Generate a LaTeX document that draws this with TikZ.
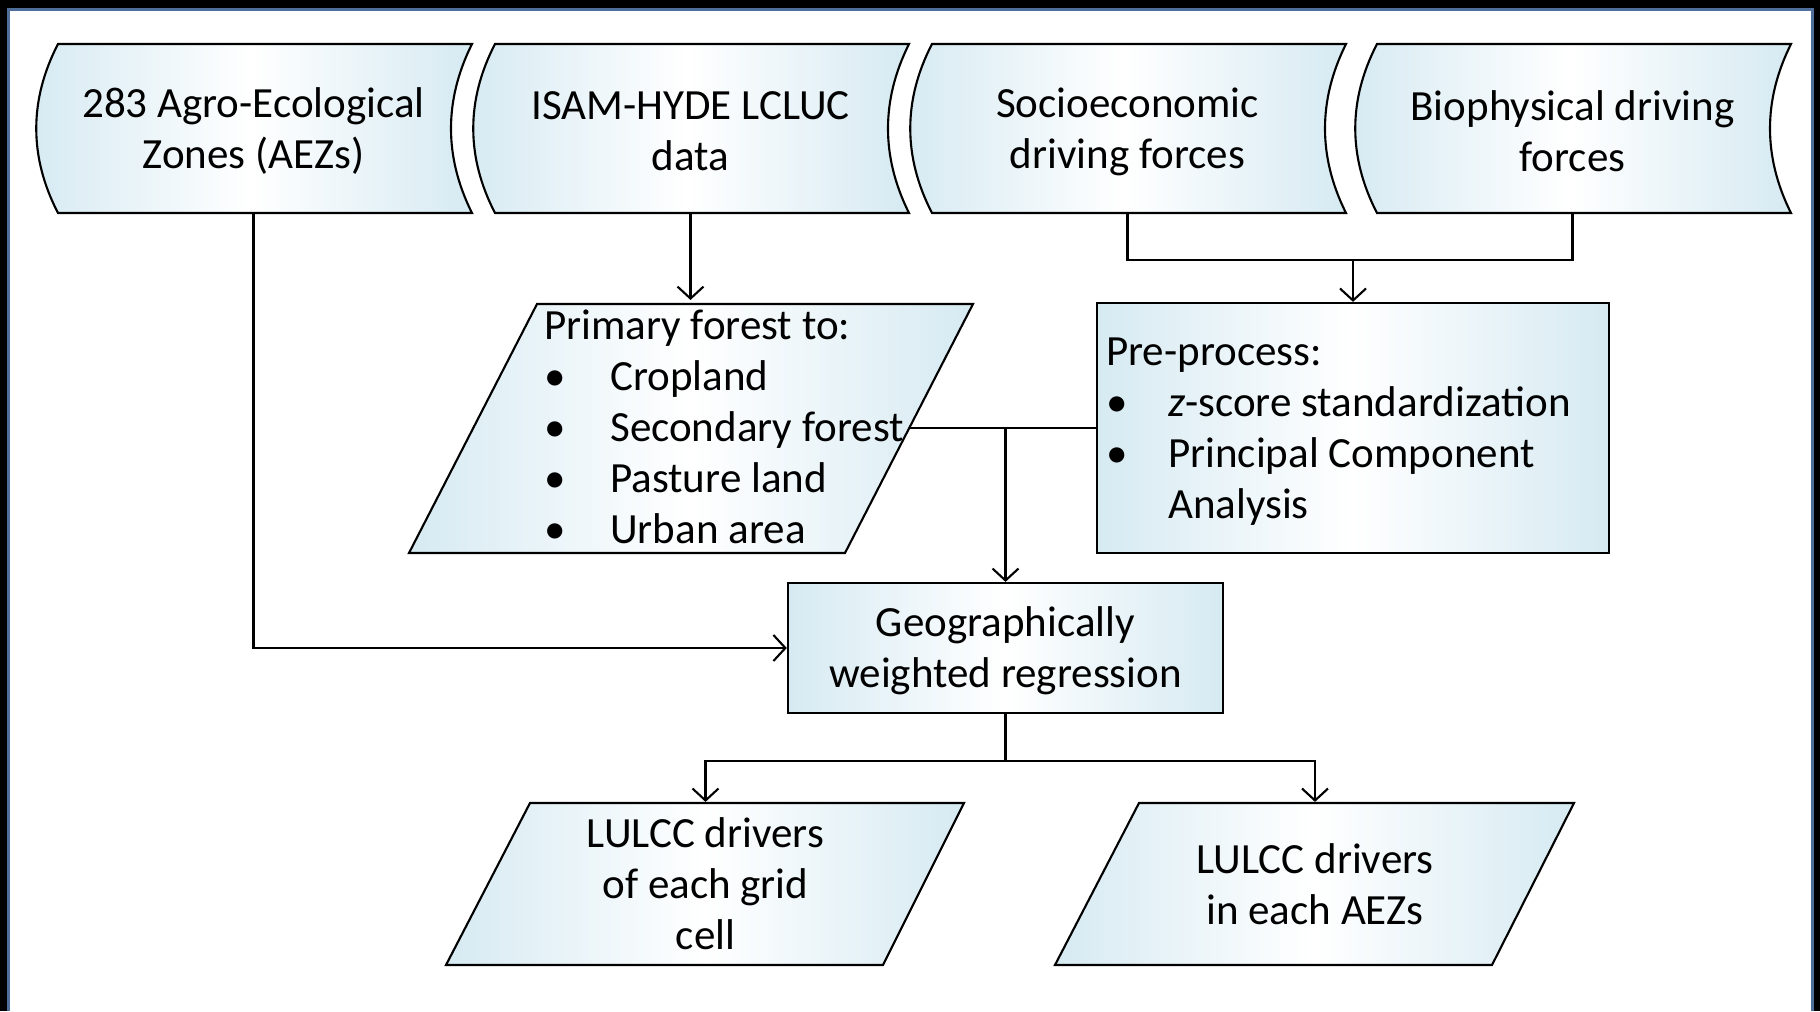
\documentclass[tikz,border=0pt]{standalone}
\usepackage{fontspec}
\setmainfont{Carlito}
\usetikzlibrary{arrows.meta}
\definecolor{boxblue}{RGB}{214,234,242}
\definecolor{rimblue}{RGB}{79,110,154}

\begin{document}
\begin{tikzpicture}[x=0.01cm,y=-0.01cm,
  font=\fontsize{12.24pt}{14.5pt}\selectfont,
  line width=0.6pt,
  >={Straight Barb[length=3.4pt,width=7.4pt]},
  fade/.style={left color=boxblue,right color=boxblue,middle color=white},
  txt/.style={inner sep=0pt,align=center},
  proc/.style={draw,fade,inner sep=0pt,align=center}]
\useasboundingbox (0,0) rectangle (1820,1011);
% frame
\fill[black] (0,0) rectangle (1820,1011);
\fill[white] (10,11) rectangle (1811,1011);
\draw[rimblue,line width=0.03cm] (8.5,1011) -- (8.5,9.5) -- (1812,9.5) -- (1812,1011);

% stored data inputs
\foreach \x/\name/\words in {58/aez/{283 Agro-Ecological\\Zones (AEZs)},
    495/isam/{ISAM-HYDE LCLUC\\data},
    932/socio/{Socioeconomic\\driving forces},
    1377/bio/{Biophysical driving\\forces}} {
  \draw[fade] (\x,44) -- ({\x+414},44) .. controls ({\x+386},100) and ({\x+386},157) .. ({\x+414},213)
    -- (\x,213) .. controls ({\x-29},157) and ({\x-29},100) .. (\x,44) -- cycle;
  \node[txt,minimum height=1.63cm] (\name) at ({\x+195.5},131.5) {\words};
}

% parallelograms
\draw[fade] (537,304) -- (973,304) -- (845,553) -- (409,553) -- cycle;
\draw[fade] (530,803) -- (964,803) -- (883,965) -- (446,965) -- cycle;
\draw[fade] (1139,803) -- (1574,803) -- (1492,965) -- (1055,965) -- cycle;

\node[txt,minimum height=2.49cm] (prim) at (691,428.5) {\raisebox{-0.03cm}[\height][\depth]{\begin{tabular}{@{}l@{\hspace{-0.66cm}}}
  Primary forest to:\\
  \makebox[0.66cm][l]{\textbullet}Cropland\\
  \makebox[0.66cm][l]{\textbullet}Secondary forest\\
  \makebox[0.66cm][l]{\textbullet}Pasture land\\
  \makebox[0.66cm][l]{\textbullet}Urban area
  \end{tabular}}};
\node[proc,minimum width=5.12cm,minimum height=2.5cm] (pre) at (1353,428) {\raisebox{-0.035cm}[\height][\depth]{\begin{tabular}{@{}l@{\hspace{0.29cm}}}
  Pre-process:\\
  \makebox[0.62cm][l]{\textbullet}\textit{z}-score standardization\\
  \makebox[0.62cm][l]{\textbullet}Principal Component\\
  \hspace*{0.62cm}Analysis
  \end{tabular}}};
\node[proc,minimum width=4.35cm,minimum height=1.3cm] (gwr) at (1005.5,648) {\raisebox{-0.035cm}[\height][\depth]{\begin{tabular}{@{}c@{}}Geographically\\weighted regression\end{tabular}}};
\node[txt,minimum height=1.62cm] (cell) at (705.5,884) {LULCC drivers\\of each grid\\cell};
\node[txt,minimum height=1.62cm] (zone) at (1315,884) {LULCC drivers\\in each AEZs};

% connectors
\draw[->] (aez.south) |- (gwr.west);
\draw[->] (isam.south) -- (isam.south |- prim.north);
\coordinate (merge) at (1353,260);
\draw (socio.south) |- (merge) -| (bio.south);
\draw[->] (merge) -- (pre.north);
\coordinate (junc) at (910,428);
\draw (junc) -- (pre.west);
\draw[->] (junc -| gwr.north) -- (gwr.north);
\coordinate (split) at (1005.5,761);
\draw (gwr.south) -- (split);
\draw[->] (split) -| (cell.north);
\draw[->] (split) -| (zone.north);
\end{tikzpicture}
\end{document}
